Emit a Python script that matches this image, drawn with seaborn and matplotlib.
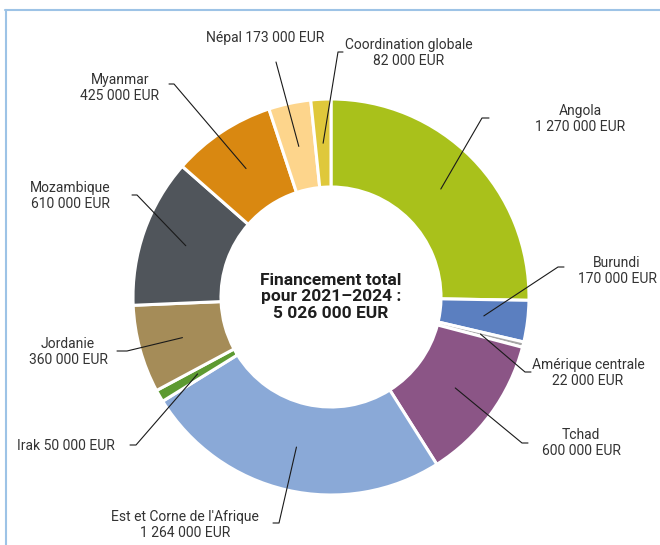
import numpy as np
import matplotlib.pyplot as plt
import seaborn as sns
from matplotlib.lines import Line2D

# data
regions = ['Angola', 'Burundi', 'Amérique centrale', 'Tchad',
           "Est et Corne de l'Afrique", 'Irak', 'Jordanie', 'Mozambique',
           'Myanmar', 'Népal', 'Coordination globale']
amounts = [1270000, 170000, 22000, 600000, 1264000, 50000, 360000,
           610000, 425000, 173000, 82000]
one_line = [False, False, False, False, False, True, False, False,
            False, True, False]
colors = ['#a9c11b', '#5b7fc0', '#a6a6a6', '#8b5586', '#8aa9d7', '#5d9a32',
          '#a58c58', '#50555b', '#d98811', '#fdd58c', '#dfc83b']
total = sum(amounts)

# layout in pixels (x, y from top)
text_pos = [(580, 119), (617, 271), (588, 373), (581, 443), (185, 525),
            (66, 446), (68, 352), (70, 196), (120, 88), (265, 38), (409, 53)]
tick_x = [489, 564, 531, 528, 273, 130, 117, 132, 169, 276, 343]
elbow = [(482, 118), (558, 267), (525, 372), (522, 443), (279, 523),
         (136, 445), (127, 351), (137, 195), (174, 84), (276, 62), (338, 52)]

W, H = 660, 545
cx, cy, R, ring = 331, 297, 198, 88


def fmt(v):
    return f'{v:,}'.replace(',', ' ') + ' EUR'


def py(y):
    return H - y


sns.set_style('white')
plt.rcParams['font.family'] = ['Roboto', 'DejaVu Sans']

fig = plt.figure(figsize=(6.6, 5.45), dpi=100)
ax = fig.add_axes([0, 0, 1, 1])
ax.pie(amounts, colors=colors, startangle=90, counterclock=False,
       radius=R, center=(cx, py(cy)),
       wedgeprops=dict(width=ring, edgecolor='white', linewidth=2.2))
ax.set_xlim(0, W)
ax.set_ylim(0, H)
ax.axis('off')

# labels and leader lines
cum = np.cumsum(amounts)
for i, name in enumerate(regions):
    theta = np.deg2rad(360 * (cum[i] - amounts[i] / 2) / total)
    r = R - ring / 2
    wx = cx + r * np.sin(theta)
    wy = cy - r * np.cos(theta)
    ex, ey = elbow[i]
    ax.plot([tick_x[i], ex, wx], [py(ey), py(ey), py(wy)],
            color='#1a1a1a', lw=0.8)
    sep = ' ' if one_line[i] else '\n'
    tx, ty = text_pos[i]
    ax.text(tx, py(ty), name + sep + fmt(amounts[i]), ha='center',
            va='center', fontsize=10, color='#333333', linespacing=1.15)

ax.text(cx, py(cy), 'Financement total\npour 2021\u20132024 :\n' + fmt(total),
        ha='center', va='center', fontsize=12.5, fontweight='bold',
        color='#1e1e1e', linespacing=1.1)

# light blue frame at top and left
fig.add_artist(Line2D([5 / W, 1], [1 - 10 / H, 1 - 10 / H],
                      color='#9dc3e6', lw=1.5))
fig.add_artist(Line2D([6 / W, 6 / W], [0, 1 - 10 / H],
                      color='#9dc3e6', lw=1.5))

fig.savefig('out.png', dpi=100)
